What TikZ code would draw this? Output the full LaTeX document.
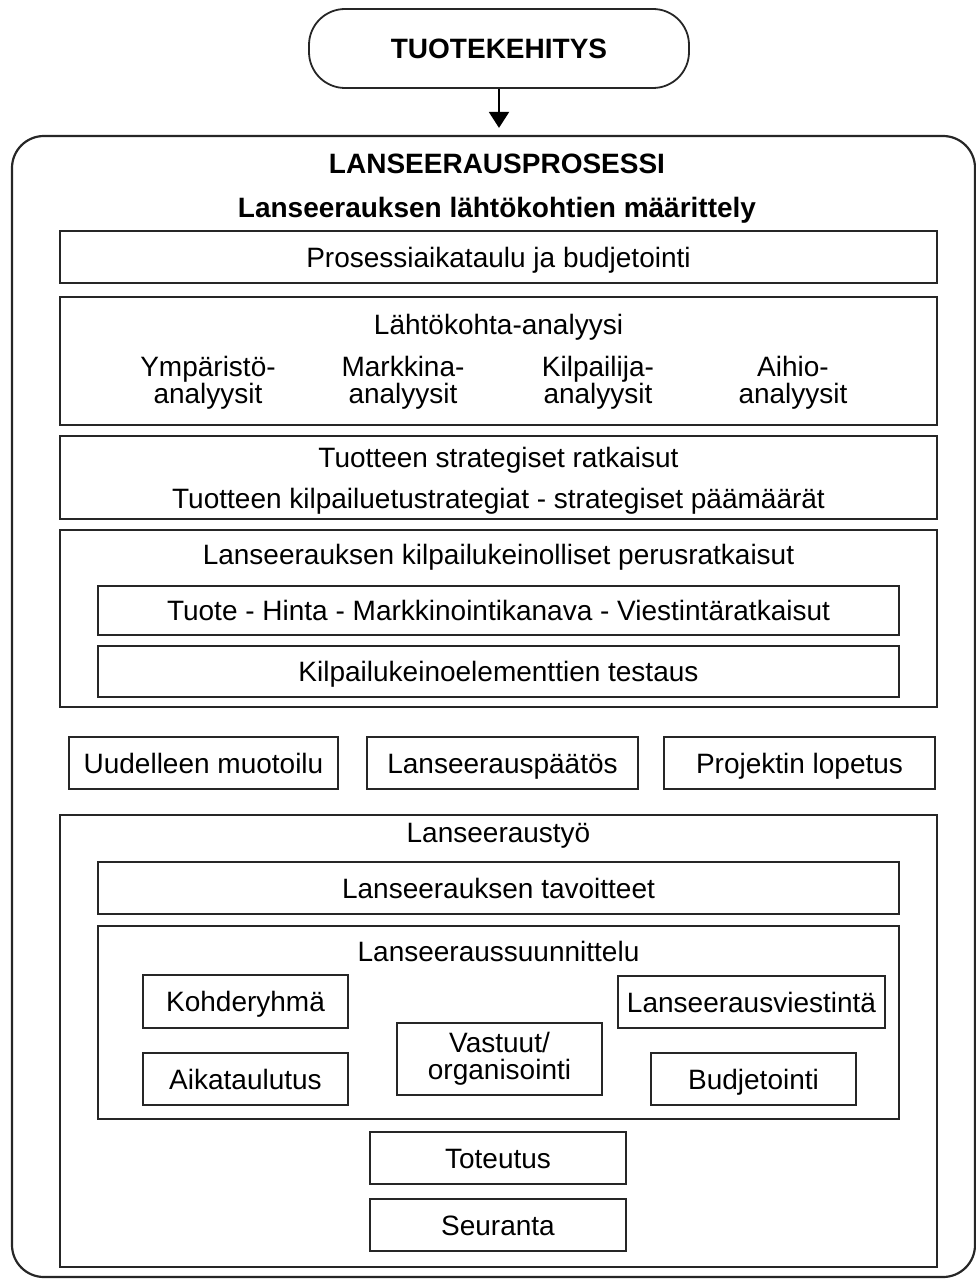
\documentclass[tikz,border=0pt]{standalone}
\usepackage{fontspec}
\setmainfont{Liberation Sans}
\usetikzlibrary{arrows.meta}

\begin{document}
\begin{tikzpicture}[x=1pt,y=-1pt,
  every node/.style={font=\fontsize{28}{27}\selectfont, text=black},
  frame/.style={draw=black!85, line width=1.8pt, inner sep=0pt},
  box/.style={frame, rectangle, text height=20pt, text depth=0pt},
  panel/.style={frame, rectangle},
  lbl/.style={anchor=base, inner sep=0pt},
  hd/.style={lbl, font=\fontsize{28}{27}\selectfont\bfseries},
]
\useasboundingbox (0,0) rectangle (976,1279);

% start node and the surrounding process frame
\node[box, rounded corners=36pt, minimum width=380, minimum height=79,
      font=\fontsize{28}{27}\selectfont\bfseries] (dev) at (499,48.5) {TUOTEKEHITYS};
\node[panel, rounded corners=32pt, minimum width=963, minimum height=1141,
      line width=2.2pt] (proc) at (493.5,706.5) {};
\draw[line width=2pt, shorten >=7pt, -{Triangle[width=20pt,length=16pt]}]
  (dev.south) -- (dev.south |- proc.north);

\node[hd] (ptitle) at (497,173) {LANSEERAUSPROSESSI};
\node[hd] (ltitle) at (497,217) {Lanseerauksen lähtökohtien määrittely};

% starting points
\node[box, minimum width=877, minimum height=52] (sched) at (498.5,257)
  {Prosessiaikataulu ja budjetointi};

\node[panel, minimum width=877, minimum height=128] (anal) at (498.5,361) {};
\node[lbl] (analt) at (498.5,334) {Lähtökohta-analyysi};
\node[lbl] (a1) at (208,376) {Ympäristö-};
\node[lbl] (a1b) at (208,403) {analyysit};
\node[lbl] (a2) at (403,376) {Markkina-};
\node[lbl] (a2b) at (403,403) {analyysit};
\node[lbl] (a3) at (598,376) {Kilpailija-};
\node[lbl] (a3b) at (598,403) {analyysit};
\node[lbl] (a4) at (793,376) {Aihio-};
\node[lbl] (a4b) at (793,403) {analyysit};

\node[panel, minimum width=877, minimum height=83] (strat) at (498.5,477.5) {};
\node[lbl] (strat1) at (498.5,467) {Tuotteen strategiset ratkaisut};
\node[lbl] (strat2) at (498.5,508) {Tuotteen kilpailuetustrategiat - strategiset päämäärät};

\node[panel, minimum width=877, minimum height=177] (mix) at (498.5,618.5) {};
\node[lbl] (mixt) at (498.5,564) {Lanseerauksen kilpailukeinolliset perusratkaisut};
\node[box, minimum width=801, minimum height=49] (elem) at (498.5,610.5)
  {Tuote - Hinta - Markkinointikanava - Viestintäratkaisut};
\node[box, minimum width=801, minimum height=51] (test) at (498.5,671.5)
  {Kilpailukeinoelementtien testaus};

% decision row
\node[box, minimum width=269, minimum height=52] (redo) at (203.5,763) {Uudelleen muotoilu};
\node[box, minimum width=271, minimum height=52] (go) at (502.5,763) {Lanseerauspäätös};
\node[box, minimum width=271, minimum height=52] (stop) at (799.5,763) {Projektin lopetus};

% launch work
\node[panel, minimum width=877, minimum height=452] (work) at (498.5,1041) {};
\node[lbl] (workt) at (498.5,842) {Lanseeraustyö};
\node[box, minimum width=801, minimum height=52] (goals) at (498.5,888)
  {Lanseerauksen tavoitteet};

\node[panel, minimum width=801, minimum height=193] (plan) at (498.5,1022.5) {};
\node[lbl] (plant) at (498.5,961) {Lanseeraussuunnittelu};
\node[box, minimum width=205, minimum height=53] (target) at (245.5,1001.5) {Kohderyhmä};
\node[box, minimum width=205, minimum height=52] (timing) at (245.5,1079) {Aikataulutus};
\node[panel, minimum width=205, minimum height=72] (resp) at (499.5,1059) {};
\node[lbl] (resp1) at (499.5,1052) {Vastuut/};
\node[lbl] (resp2) at (499.5,1079) {organisointi};
\node[box, minimum width=267, minimum height=52] (comm) at (751.5,1002) {Lanseerausviestintä};
\node[box, minimum width=205, minimum height=52] (budget) at (753.5,1079) {Budjetointi};

\node[box, minimum width=256, minimum height=52] (exec) at (498,1158) {Toteutus};
\node[box, minimum width=256, minimum height=52] (follow) at (498,1225) {Seuranta};
\end{tikzpicture}
\end{document}
